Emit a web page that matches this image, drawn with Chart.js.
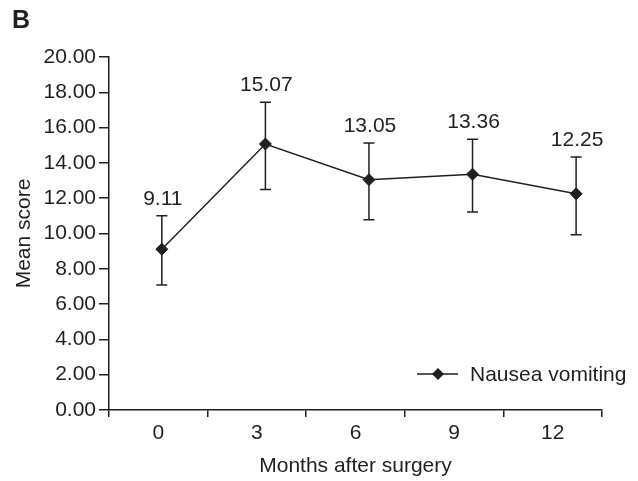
<!DOCTYPE html>
<html>
<head>
<meta charset="utf-8">
<script src="https://cdn.jsdelivr.net/npm/chart.js@4/dist/chart.umd.min.js"></script>
<style>
  html, body { margin: 0; padding: 0; background: #ffffff; }
  #wrap { width: 638px; height: 481px; position: relative; }
</style>
</head>
<body>
<div id="wrap"><canvas id="c" width="638" height="481"></canvas></div>
<script>
// ---- data ----
const categories = ['0', '3', '6', '9', '12'];
const months = [0, 3, 6, 9, 12];
const meanScores = [9.11, 15.07, 13.05, 13.36, 12.25];
const errLow = [7.08, 12.50, 10.78, 11.22, 9.93];
const errHigh = [11.01, 17.43, 15.13, 15.34, 14.33];
const valueLabels = ['9.11', '15.07', '13.05', '13.36', '12.25'];
const seriesName = 'Nausea vomiting';
const panelLetter = 'B';
const xTitle = 'Months after surgery';
const yTitle = 'Mean score';

const INK = '#231f20';
const FONT = "'Liberation Sans', Arial, Helvetica, sans-serif";
const FS = 21;

const errorBarPlugin = {
  id: 'errorBars',
  beforeDatasetsDraw(chart) {
    const ctx = chart.ctx;
    const xs = chart.scales.xd, ys = chart.scales.y;
    ctx.save();
    ctx.strokeStyle = INK;
    ctx.lineWidth = 1.5;
    const cap = 5.5;
    months.forEach((m, i) => {
      const x = xs.getPixelForValue(m);
      const yl = ys.getPixelForValue(errLow[i]);
      const yh = ys.getPixelForValue(errHigh[i]);
      ctx.beginPath();
      ctx.moveTo(x, yl); ctx.lineTo(x, yh);
      ctx.moveTo(x - cap, yl); ctx.lineTo(x + cap, yl);
      ctx.moveTo(x - cap, yh); ctx.lineTo(x + cap, yh);
      ctx.stroke();
    });
    ctx.restore();
  },
  afterDatasetsDraw(chart) {
    const ctx = chart.ctx;
    const xs = chart.scales.xd, ys = chart.scales.y;
    ctx.save();
    ctx.fillStyle = INK;
    ctx.font = FS + 'px ' + FONT;
    ctx.textAlign = 'center';
    ctx.textBaseline = 'alphabetic';
    months.forEach((m, i) => {
      const x = xs.getPixelForValue(m);
      const yh = ys.getPixelForValue(errHigh[i]);
      ctx.fillText(valueLabels[i], x + 1, yh - 11);
    });
    // legend
    const ly = 374;
    ctx.strokeStyle = INK;
    ctx.lineWidth = 1.5;
    ctx.beginPath();
    ctx.moveTo(417, ly); ctx.lineTo(458, ly);
    ctx.stroke();
    const cx = 438, r = 6;
    ctx.beginPath();
    ctx.moveTo(cx - r, ly); ctx.lineTo(cx, ly - r); ctx.lineTo(cx + r, ly); ctx.lineTo(cx, ly + r);
    ctx.closePath();
    ctx.fill();
    ctx.textAlign = 'left';
    ctx.textBaseline = 'middle';
    ctx.fillText(seriesName, 470, ly + 1);
    ctx.restore();
  }
};

new Chart(document.getElementById('c'), {
  type: 'line',
  data: {
    labels: categories,
    datasets: [{
      label: seriesName,
      xAxisID: 'xd',
      data: months.map((m, i) => ({ x: m, y: meanScores[i] })),
      borderColor: INK,
      backgroundColor: INK,
      borderWidth: 1.5,
      tension: 0,
      pointStyle: 'rectRot',
      pointRadius: 6,
      pointBorderWidth: 1,
      pointBackgroundColor: INK,
      pointBorderColor: INK
    }]
  },
  options: {
    responsive: false,
    animation: false,
    devicePixelRatio: 1,
    layout: { padding: { left: 12, right: 36, top: 0, bottom: 0 } },
    plugins: {
      legend: { display: false },
      tooltip: { enabled: false },
      title: {
        display: true,
        text: panelLetter,
        align: 'start',
        color: INK,
        font: { family: FONT, size: 25, weight: 'bold', lineHeight: 1.2 },
        padding: { top: 6, bottom: 21 }
      }
    },
    scales: {
      x: {
        type: 'category',
        position: 'bottom',
        offset: true,
        afterFit(s) { s.height = 71; },
        grid: { display: true, drawOnChartArea: false, offset: true, tickLength: 7, color: INK, lineWidth: 1.5 },
        border: { display: true, color: INK, width: 1.5 },
        ticks: { color: INK, font: { family: FONT, size: FS }, padding: 4, maxRotation: 0 },
        title: { display: true, text: xTitle, color: INK, font: { family: FONT, size: FS }, padding: { top: 0, bottom: 2 } }
      },
      xd: {
        type: 'linear',
        display: false,
        min: -1.53,
        max: 12.75
      },
      y: {
        type: 'linear',
        position: 'left',
        min: 0,
        max: 20,
        afterFit(s) { s.width = 97; },
        grid: { display: true, drawOnChartArea: false, tickLength: 10, color: INK, lineWidth: 1.5 },
        border: { display: true, color: INK, width: 1.5 },
        ticks: {
          stepSize: 2,
          color: INK,
          font: { family: FONT, size: FS },
          padding: 3,
          callback: (v) => Number(v).toFixed(2)
        },
        title: { display: true, text: yTitle, color: INK, font: { family: FONT, size: FS }, padding: { top: 0, bottom: 0 } }
      }
    }
  },
  plugins: [errorBarPlugin]
});
</script>
</body>
</html>
